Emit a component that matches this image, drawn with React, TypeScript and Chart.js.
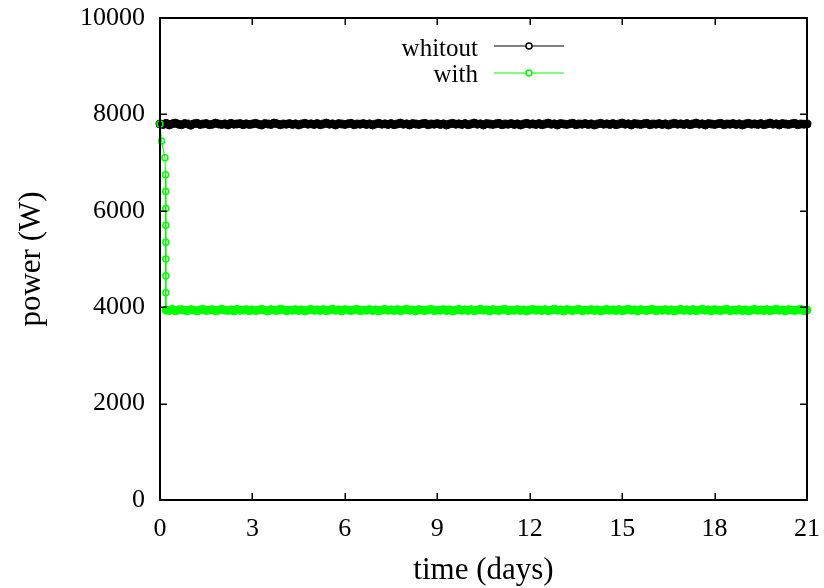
import React, { useEffect, useRef } from "react";
import { Chart, registerables } from "chart.js";

Chart.register(...registerables);

// ---- data ----
const SERIES_NAMES = ["whitout", "with"];
const X_TICKS_STEP = 3; // days
const Y_TICKS_STEP = 2000; // W
const SAMPLE_STEP = 0.1; // days between samples

// "whitout": samples every 0.1 day from day 0 to day 21
const whitoutValues = [
  7800, 7790, 7815, 7780, 7805, 7820, 7795, 7785, 7810, 7800, 7775, 7805, 7815, 7790, 7800,
  7810, 7785, 7795, 7820, 7800, 7790, 7805, 7780, 7815, 7795, 7800, 7810, 7785, 7805, 7790,
  7800, 7815, 7795, 7780, 7810, 7800, 7790, 7820, 7805, 7785, 7800, 7795, 7810, 7790, 7805,
  7780, 7800, 7815, 7795, 7805, 7790, 7810, 7785, 7800, 7820, 7795, 7805, 7780, 7810, 7800,
  7790, 7805, 7815, 7785, 7800, 7795, 7810, 7790, 7805, 7780, 7800, 7815, 7795, 7805, 7790,
  7810, 7785, 7800, 7820, 7795, 7805, 7780, 7810, 7800, 7790, 7805, 7815, 7785, 7800, 7795,
  7810, 7790, 7805, 7780, 7800, 7815, 7795, 7805, 7790, 7810, 7785, 7800, 7820, 7795, 7805,
  7780, 7810, 7800, 7790, 7805, 7815, 7785, 7800, 7795, 7810, 7790, 7805, 7780, 7800, 7815,
  7795, 7805, 7790, 7810, 7785, 7800, 7820, 7795, 7805, 7780, 7810, 7800, 7790, 7805, 7815,
  7785, 7800, 7795, 7810, 7790, 7805, 7780, 7800, 7815, 7795, 7805, 7790, 7810, 7785, 7800,
  7820, 7795, 7805, 7780, 7810, 7800, 7790, 7805, 7815, 7785, 7800, 7795, 7810, 7790, 7805,
  7780, 7800, 7815, 7795, 7805, 7790, 7810, 7785, 7800, 7820, 7795, 7805, 7780, 7810, 7800,
  7790, 7805, 7815, 7785, 7800, 7795, 7810, 7790, 7805, 7780, 7800, 7815, 7795, 7805, 7790,
  7810, 7785, 7800, 7820, 7795, 7805, 7780, 7810, 7800, 7790, 7805, 7815, 7785, 7800, 7795,
  7800,
];

// "with": initial drop (time in days, power in W)
const withDropTimes = [0.0, 0.05, 0.16, 0.18, 0.185, 0.19, 0.19, 0.19, 0.19, 0.19, 0.19, 0.19];
const withDropValues = [7800, 7450, 7100, 6750, 6400, 6050, 5700, 5350, 5000, 4650, 4300, 3950];

// "with": steady part, samples every 0.1 day from day 0.2 to day 21
const WITH_STEADY_START = 0.2;
const withSteadyValues = [
  3940, 3930, 3955, 3925, 3945, 3950, 3935, 3925, 3950, 3940, 3920, 3945, 3955, 3930, 3940,
  3950, 3925, 3935, 3960, 3940, 3930, 3945, 3920, 3955, 3935, 3940, 3950, 3925, 3945, 3930,
  3940, 3955, 3935, 3920, 3950, 3940, 3930, 3960, 3945, 3925, 3940, 3935, 3950, 3930, 3945,
  3920, 3940, 3955, 3935, 3945, 3930, 3950, 3925, 3940, 3960, 3935, 3945, 3920, 3950, 3940,
  3930, 3945, 3955, 3925, 3940, 3935, 3950, 3930, 3945, 3920, 3940, 3955, 3935, 3945, 3930,
  3950, 3925, 3940, 3960, 3935, 3945, 3920, 3950, 3940, 3930, 3945, 3955, 3925, 3940, 3935,
  3950, 3930, 3945, 3920, 3940, 3955, 3935, 3945, 3930, 3950, 3925, 3940, 3960, 3935, 3945,
  3920, 3950, 3940, 3930, 3945, 3955, 3925, 3940, 3935, 3950, 3930, 3945, 3920, 3940, 3955,
  3935, 3945, 3930, 3950, 3925, 3940, 3960, 3935, 3945, 3920, 3950, 3940, 3930, 3945, 3955,
  3925, 3940, 3935, 3950, 3930, 3945, 3920, 3940, 3955, 3935, 3945, 3930, 3950, 3925, 3940,
  3960, 3935, 3945, 3920, 3950, 3940, 3930, 3945, 3955, 3925, 3940, 3935, 3950, 3930, 3945,
  3920, 3940, 3955, 3935, 3945, 3930, 3950, 3925, 3940, 3960, 3935, 3945, 3920, 3950, 3940,
  3930, 3945, 3955, 3925, 3940, 3935, 3950, 3930, 3945, 3920, 3940, 3955, 3935, 3945, 3930,
  3950, 3925, 3940, 3960, 3935, 3945, 3920, 3950, 3940, 3930, 3945, 3955, 3925, 3940,
];

const X_TITLE = "time (days)";
const Y_TITLE = "power (W)";

// ---- styles ----
const BLACK = "#000000";
const GREEN = "#00ff00";
const FONT = '"Liberation Serif", "Times New Roman", serif';

const whitoutData = whitoutValues.map((v, i) => ({ x: +(i * SAMPLE_STEP).toFixed(2), y: v }));
const withData = [
  ...withDropTimes.map((t, i) => ({ x: t, y: withDropValues[i] })),
  ...withSteadyValues.map((v, i) => ({ x: +(WITH_STEADY_START + i * SAMPLE_STEP).toFixed(2), y: v })),
];

const framePlugin = {
  id: "gnuframe",
  afterDraw(chart: any) {
    const { ctx, chartArea: a, scales } = chart;
    const xs = scales.x;
    const ys = scales.y;
    ctx.save();
    // ticks (inward, mirrored)
    ctx.strokeStyle = BLACK;
    ctx.lineWidth = 1.5;
    const TL = 7;
    ctx.beginPath();
    xs.ticks.forEach((t: any) => {
      const px = Math.round(xs.getPixelForValue(t.value)) + 0.25;
      ctx.moveTo(px, a.bottom);
      ctx.lineTo(px, a.bottom - TL);
      ctx.moveTo(px, a.top);
      ctx.lineTo(px, a.top + TL);
    });
    ys.ticks.forEach((t: any) => {
      const py = Math.round(ys.getPixelForValue(t.value)) + 0.25;
      ctx.moveTo(a.left, py);
      ctx.lineTo(a.left + TL, py);
      ctx.moveTo(a.right, py);
      ctx.lineTo(a.right - TL, py);
    });
    ctx.stroke();
    // frame
    ctx.lineWidth = 2;
    ctx.strokeRect(a.left, a.top, a.right - a.left, a.bottom - a.top);

    // axis titles
    ctx.fillStyle = BLACK;
    ctx.font = `31px ${FONT}`;
    ctx.textAlign = "center";
    ctx.textBaseline = "alphabetic";
    ctx.fillText(X_TITLE, (a.left + a.right) / 2, 579);
    ctx.save();
    ctx.translate(40, (a.top + a.bottom) / 2);
    ctx.rotate(-Math.PI / 2);
    ctx.fillText(Y_TITLE, 0, 0);
    ctx.restore();

    // legend
    const colors = [BLACK, GREEN];
    const baselines = [56, 82];
    const lineYs = [46, 73];
    ctx.font = `25px ${FONT}`;
    ctx.textAlign = "right";
    SERIES_NAMES.forEach((name, i) => {
      ctx.fillStyle = BLACK;
      ctx.fillText(name, 478, baselines[i]);
      ctx.strokeStyle = colors[i];
      ctx.lineWidth = 1.2;
      ctx.beginPath();
      ctx.moveTo(494, lineYs[i]);
      ctx.lineTo(564, lineYs[i]);
      ctx.stroke();
      ctx.lineWidth = 1.5;
      ctx.beginPath();
      ctx.arc(529, lineYs[i], 3, 0, Math.PI * 2);
      ctx.fillStyle = "#ffffff";
      ctx.fill();
      ctx.stroke();
    });
    ctx.restore();
  },
};

const zeroPadding = (s: any) => {
  s.paddingTop = 0;
  s.paddingBottom = 0;
  s.paddingLeft = 0;
  s.paddingRight = 0;
};

export default function App() {
  const ref = useRef<HTMLCanvasElement | null>(null);
  useEffect(() => {
    document.body.style.margin = "0";
    const canvas = ref.current;
    if (!canvas) return;
    const dropCount = withDropTimes.length;
    const chart = new Chart(canvas, {
      type: "line",
      data: {
        datasets: [
          {
            label: SERIES_NAMES[1],
            data: withData,
            borderColor: GREEN,
            borderWidth: 1,
            segment: {
              borderWidth: (c: any) => (c.p0DataIndex < dropCount - 1 ? 1 : 6),
            },
            pointRadius: (c: any) => (c.dataIndex < dropCount ? 3 : 4),
            pointBorderWidth: (c: any) => (c.dataIndex < dropCount ? 1.5 : 1),
            pointBorderColor: GREEN,
            pointBackgroundColor: (c: any) => (c.dataIndex < dropCount ? "rgba(255,255,255,0)" : GREEN),
            tension: 0,
            clip: false as any,
            order: 0,
          },
          {
            label: SERIES_NAMES[0],
            data: whitoutData,
            borderColor: BLACK,
            borderWidth: 6,
            pointRadius: 4,
            pointBorderWidth: 1,
            pointBorderColor: BLACK,
            pointBackgroundColor: BLACK,
            tension: 0,
            clip: false as any,
            order: 1,
          },
        ],
      },
      options: {
        responsive: false,
        animation: false,
        events: [],
        layout: { padding: { left: 0, right: 17, top: 18, bottom: 0 } },
        plugins: { legend: { display: false }, tooltip: { enabled: false } },
        scales: {
          x: {
            type: "linear",
            min: 0,
            max: 21,
            grid: { display: false, drawTicks: false },
            border: { display: false },
            ticks: {
              stepSize: X_TICKS_STEP,
              color: BLACK,
              font: { family: FONT, size: 26 },
              padding: 14,
              maxRotation: 0,
              callback: (v: any) => String(v),
            },
            afterFit: (s: any) => {
              s.height = 88;
              zeroPadding(s);
            },
          },
          y: {
            type: "linear",
            min: 0,
            max: 10000,
            grid: { display: false, drawTicks: false },
            border: { display: false },
            ticks: {
              stepSize: Y_TICKS_STEP,
              color: BLACK,
              font: { family: FONT, size: 26 },
              padding: 15,
              callback: (v: any) => String(v),
            },
            afterFit: (s: any) => {
              s.width = 160;
              zeroPadding(s);
            },
          },
        },
      },
      plugins: [framePlugin],
    });
    return () => chart.destroy();
  }, []);
  return (
    <div style={{ position: "fixed", left: 0, top: 0, width: 824, height: 588, background: "#fff" }}>
      <canvas ref={ref} width={824} height={588} />
    </div>
  );
}
